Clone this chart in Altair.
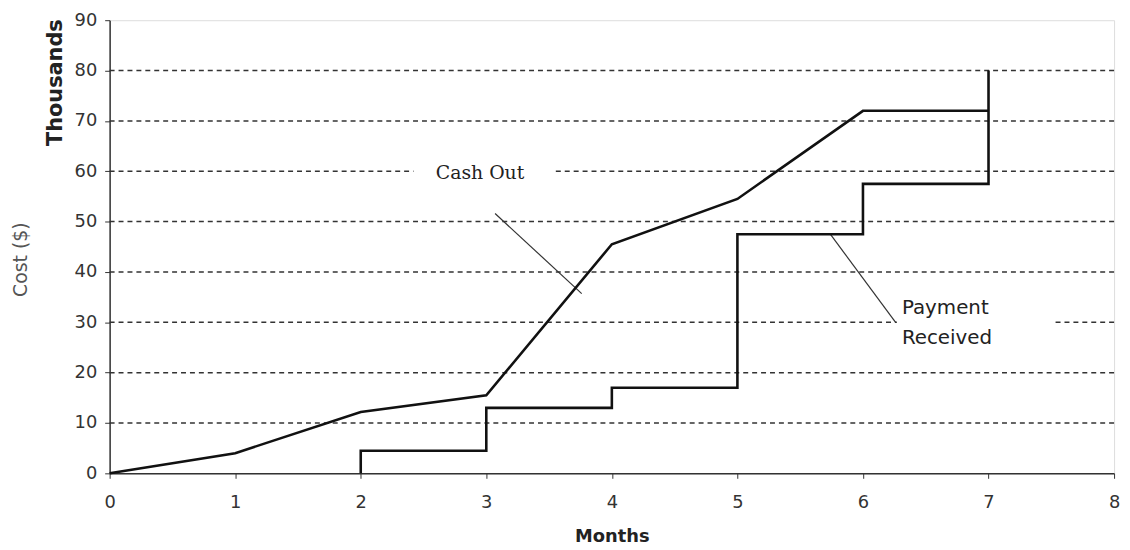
import altair as alt
import pandas as pd

# ---- data ----
months = [0, 1, 2, 3, 4, 5, 6, 7]
cash_out = [0, 4, 12.2, 15.5, 45.5, 54.5, 72, 72]

pay_months = [2, 2, 3, 4, 5, 6, 7]
payment = [0, 4.5, 13, 17, 47.5, 57.5, 80]

grid_vals = [10, 20, 30, 40, 50, 60, 70, 80]
y_ticks = [0, 10, 20, 30, 40, 50, 60, 70, 80, 90]
x_ticks = [0, 1, 2, 3, 4, 5, 6, 7, 8]

# annotation boxes (month / thousands units) that hide the dashed grid behind labels
box_x = [2.42, 6.27]
box_x2 = [3.53, 7.52]
box_y = [56.8, 27.3]
box_y2 = [63.0, 34.5]

# leader lines
lead_id = ["c", "c", "p", "p"]
lead_x = [3.07, 3.76, 5.74, 6.26]
lead_y = [51.6, 35.7, 47.5, 30.0]

cash_lbl = {"x": 2.95, "y": 59.6, "t": "Cash Out"}
pay_lbl = {"x": 6.31, "y": 32.9, "t": ["Payment", "Received"]}

SANS = "DejaVu Sans"
SERIF = "DejaVu Serif"

xs = alt.Scale(domain=[0, 8], nice=False, zero=False)
ys = alt.Scale(domain=[0, 90], nice=False)

df_cash = pd.DataFrame({"m": months, "v": cash_out})
df_pay = pd.DataFrame({"m": pay_months, "v": payment})
df_grid = pd.DataFrame({"g": grid_vals})
df_box = pd.DataFrame({"x": box_x, "x2": box_x2, "y": box_y, "y2": box_y2})
df_lead = pd.DataFrame({"id": lead_id, "m": lead_x, "v": lead_y})

x_axis = alt.Axis(
    values=x_ticks, format="d", title="Months", grid=False, tickSize=5, labelPadding=15,
    labelFont=SANS, labelFontSize=18, labelColor="#333", tickColor="#333",
    domainColor="#333", domainWidth=1.5, titleFont=SANS, titleFontSize=18,
    titleFontWeight="bold", titleColor="#222", titleY=64, titleBaseline="middle",
    labelFlush=False,
)
y_axis = alt.Axis(
    values=y_ticks, format="d", title="Cost ($)", grid=False, tickSize=5, labelPadding=8,
    labelFont=SANS, labelFontSize=18, labelColor="#333", tickColor="#333",
    domainColor="#333", domainWidth=1.5, titleFont=SANS, titleFontSize=19,
    titleFontWeight="normal", titleColor="#555", titleX=-90, titleY=241,
    titleAlign="center", titleBaseline="middle", titleAngle=270,
)

grid = alt.Chart(df_grid).mark_rule(
    color="#333", strokeWidth=1.5, strokeDash=[5, 4]
).encode(y=alt.Y("g:Q", scale=ys, axis=y_axis))

boxes = alt.Chart(df_box).mark_rect(color="white").encode(
    x=alt.X("x:Q", scale=xs, axis=x_axis), x2="x2:Q",
    y=alt.Y("y:Q", scale=ys), y2="y2:Q",
)

leads = alt.Chart(df_lead).mark_line(color="#333", strokeWidth=1.2).encode(
    x=alt.X("m:Q", scale=xs), y=alt.Y("v:Q", scale=ys), detail="id:N"
)

cash_line = alt.Chart(df_cash).mark_line(color="#111", strokeWidth=2.6).encode(
    x=alt.X("m:Q", scale=xs), y=alt.Y("v:Q", scale=ys)
)

pay_line = alt.Chart(df_pay).mark_line(
    color="#111", strokeWidth=2.6, interpolate="step-after"
).encode(x=alt.X("m:Q", scale=xs), y=alt.Y("v:Q", scale=ys))

cash_text = alt.Chart(pd.DataFrame([cash_lbl])).mark_text(
    font=SERIF, fontSize=19, color="#222", align="center", baseline="middle"
).encode(x=alt.X("x:Q", scale=xs), y=alt.Y("y:Q", scale=ys), text="t:N")

pay_text = alt.Chart(pd.DataFrame({"x": [pay_lbl["x"]], "y": [pay_lbl["y"]]})).mark_text(
    font=SANS, fontSize=20, color="#222", align="left", baseline="middle",
    lineHeight=31,
).encode(x=alt.X("x:Q", scale=xs), y=alt.Y("y:Q", scale=ys),
         text=alt.value(pay_lbl["t"]))

thousands = alt.Chart(pd.DataFrame({"a": [0]})).mark_text(
    font=SANS, fontSize=21, fontWeight="bold", color="#222", angle=270,
    align="center", baseline="middle",
).encode(x=alt.value(-54.5), y=alt.value(63), text=alt.value("Thousands"))

chart = alt.layer(
    grid, boxes, leads, cash_line, pay_line, cash_text, pay_text, thousands
).properties(
    width=1013, height=457,
    autosize=alt.AutoSizeParams(type="none"),
    padding={"left": 102.5, "top": 10, "right": 8, "bottom": 75},
).configure_view(stroke="#bbb", strokeWidth=1).configure(background="white")

chart.save("out.html", embed_options={"renderer": "svg", "actions": False})
